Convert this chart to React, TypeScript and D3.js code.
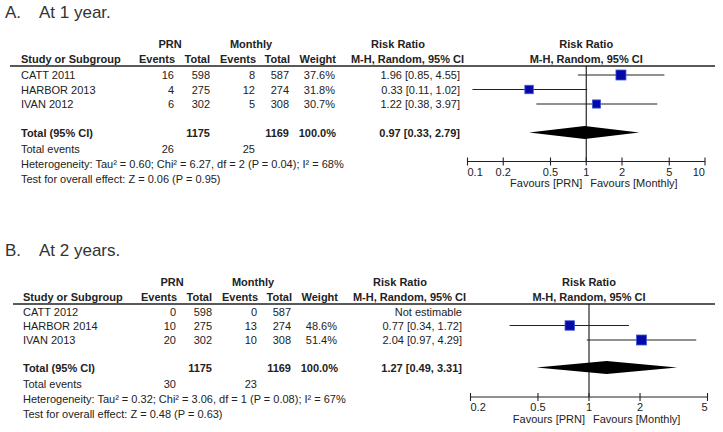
import React from 'react'
import * as d3 from 'd3'

// ---- panel A: at 1 year ----
const studiesA = ['CATT 2011', 'HARBOR 2013', 'IVAN 2012']
const prnEventsA = [16, 4, 6]
const prnTotalA = [598, 275, 302]
const monEventsA = [8, 12, 5]
const monTotalA = [587, 274, 308]
const weightA = [37.6, 31.8, 30.7]
const rrA = [1.96, 0.33, 1.22]
const loA = [0.85, 0.11, 0.38]
const hiA = [4.55, 1.02, 3.97]
const pooledA = [0.97, 0.33, 2.79]
const totalsA = [1175, 1169]
const totalEventsA = [26, 25]
const hetA = 'Heterogeneity: Tau² = 0.60; Chi² = 6.27, df = 2 (P = 0.04); I² = 68%'
const testA = 'Test for overall effect: Z = 0.06 (P = 0.95)'
const ticksA = [0.1, 0.2, 0.5, 1, 2, 5, 10]

// ---- panel B: at 2 years ----
const studiesB = ['CATT 2012', 'HARBOR 2014', 'IVAN 2013']
const prnEventsB = [0, 10, 20]
const prnTotalB = [598, 275, 302]
const monEventsB = [0, 13, 10]
const monTotalB = [587, 274, 308]
const weightB = [null, 48.6, 51.4]
const rrB = [null, 0.77, 2.04]
const loB = [null, 0.34, 0.97]
const hiB = [null, 1.72, 4.29]
const pooledB = [1.27, 0.49, 3.31]
const totalsB = [1175, 1169]
const totalEventsB = [30, 23]
const hetB = 'Heterogeneity: Tau² = 0.32; Chi² = 3.06, df = 1 (P = 0.08); I² = 67%'
const testB = 'Test for overall effect: Z = 0.48 (P = 0.63)'
const ticksB = [0.2, 0.5, 1, 2, 5]

const FONT = "Arial, 'Liberation Sans', sans-serif"
const INK = '#222'

function fmt2(v: number) {
  return v.toFixed(2)
}

function Panel(props: any) {
  const {
    top, dx, letter, title, studies, prnEvents, prnTotal, monEvents, monTotal,
    weight, rr, lo, hi, pooled, totals, totalEvents, het, test, ticks,
    axisRange, lineX0, rows, yTotal, yAxis,
  } = props

  const x = d3.scaleLog().domain([ticks[0], ticks[ticks.length - 1]]).range(axisRange)
  const maxW = d3.max(weight.filter((w: any) => w != null) as number[]) as number
  const side = d3.scaleLinear().domain([0, maxW]).range([0, 10])
  const c = (v: number) => v + dx

  const yHead1 = top + 30
  const yHead2 = top + 45
  const yLine = top + 48
  const yEvents = yTotal + 16.5
  const yHet = yTotal + 31.5
  const yTest = yTotal + 46.5

  const num = { fontSize: 11, fill: INK, textAnchor: 'end' as const }
  const bold = { fontSize: 11, fill: INK, fontWeight: 'bold' as const }

  return (
    <g fontFamily={FONT}>
      <text x={5} y={top} fontSize={17} fill="#333">{letter}</text>
      <text x={39} y={top} fontSize={17} fill="#333">{title}</text>

      <text x={c(170)} y={yHead1} textAnchor="middle" {...bold}>PRN</text>
      <text x={c(251)} y={yHead1} textAnchor="middle" {...bold}>Monthly</text>
      <text x={c(398)} y={yHead1} textAnchor="middle" {...bold}>Risk Ratio</text>
      <text x={x(1)} y={yHead1} textAnchor="middle" {...bold}>Risk Ratio</text>

      <text x={c(21)} y={yHead2} {...bold}>Study or Subgroup</text>
      <text x={c(175)} y={yHead2} textAnchor="end" {...bold}>Events</text>
      <text x={c(210)} y={yHead2} textAnchor="end" {...bold}>Total</text>
      <text x={c(256)} y={yHead2} textAnchor="end" {...bold}>Events</text>
      <text x={c(290)} y={yHead2} textAnchor="end" {...bold}>Total</text>
      <text x={c(336)} y={yHead2} textAnchor="end" {...bold}>Weight</text>
      <text x={c(464)} y={yHead2} textAnchor="end" {...bold}>M-H, Random, 95% CI</text>
      <text x={x(1)} y={yHead2} textAnchor="middle" {...bold}>M-H, Random, 95% CI</text>

      <line x1={lineX0} x2={715} y1={yLine} y2={yLine} stroke={INK} strokeWidth={1.3} />
      <line x1={x(1)} x2={x(1)} y1={yLine} y2={yAxis} stroke="#111" strokeWidth={1.1} />

      {studies.map((s: string, i: number) => {
        const y = rows[i]
        const has = rr[i] != null
        const sz = has ? side(weight[i]) : 0
        return (
          <g key={s}>
            <text x={c(21)} y={y + 4} fontSize={11} fill={INK}>{s}</text>
            <text x={c(174)} y={y + 4} {...num}>{prnEvents[i]}</text>
            <text x={c(210)} y={y + 4} {...num}>{prnTotal[i]}</text>
            <text x={c(255)} y={y + 4} {...num}>{monEvents[i]}</text>
            <text x={c(289)} y={y + 4} {...num}>{monTotal[i]}</text>
            {weight[i] != null && (
              <text x={c(335)} y={y + 4} {...num}>{weight[i].toFixed(1)}%</text>
            )}
            <text x={c(460)} y={y + 4} {...num}>
              {has ? `${fmt2(rr[i])} [${fmt2(lo[i])}, ${fmt2(hi[i])}]` : 'Not estimable'}
            </text>
            {has && (
              <>
                <line x1={x(lo[i])} x2={x(hi[i])} y1={y} y2={y} stroke={INK} strokeWidth={1.1} />
                <rect
                  x={x(rr[i]) - sz / 2}
                  y={y - sz / 2}
                  width={sz}
                  height={sz}
                  fill="#0808a8"
                  stroke="#3d5ad8"
                  strokeWidth={0.8}
                />
              </>
            )}
          </g>
        )
      })}

      <text x={c(21)} y={yTotal + 4} {...bold}>Total (95% CI)</text>
      <text x={c(210)} y={yTotal + 4} textAnchor="end" {...bold}>{totals[0]}</text>
      <text x={c(289)} y={yTotal + 4} textAnchor="end" {...bold}>{totals[1]}</text>
      <text x={c(336)} y={yTotal + 4} textAnchor="end" {...bold}>100.0%</text>
      <text x={c(460)} y={yTotal + 4} textAnchor="end" {...bold}>
        {`${fmt2(pooled[0])} [${fmt2(pooled[1])}, ${fmt2(pooled[2])}]`}
      </text>
      <path
        d={`M${x(pooled[1])},${yTotal} L${x(pooled[0])},${yTotal - 6.5} L${x(pooled[2])},${yTotal} L${x(pooled[0])},${yTotal + 6.5} Z`}
        fill="#000"
      />

      <text x={c(21)} y={yEvents + 4} fontSize={11} fill={INK}>Total events</text>
      <text x={c(174)} y={yEvents + 4} {...num}>{totalEvents[0]}</text>
      <text x={c(255)} y={yEvents + 4} {...num}>{totalEvents[1]}</text>
      <text x={c(21)} y={yHet + 4} fontSize={11} fill={INK}>{het}</text>
      <text x={c(21)} y={yTest + 4} fontSize={11} fill={INK}>{test}</text>

      <line x1={axisRange[0]} x2={axisRange[1]} y1={yAxis} y2={yAxis} stroke={INK} strokeWidth={1.1} />
      {ticks.map((t: number, i: number) => (
        <g key={t}>
          <line x1={x(t)} x2={x(t)} y1={yAxis - 4} y2={yAxis + 4} stroke={INK} strokeWidth={1.1} />
          <text
            x={x(t)}
            y={yAxis + 14}
            fontSize={11}
            fill={INK}
            textAnchor={i === 0 ? 'start' : i === ticks.length - 1 ? 'end' : 'middle'}
          >
            {d3.format('~g')(t)}
          </text>
        </g>
      ))}
      <text x={x(1) - 4} y={yAxis + 25.5} fontSize={11} fill={INK} textAnchor="end">Favours [PRN]</text>
      <text x={x(1) + 4} y={yAxis + 25.5} fontSize={11} fill={INK}>Favours [Monthly]</text>
    </g>
  )
}

export default function App() {
  return (
    <svg
      width={723}
      height={432}
      viewBox="0 0 723 432"
      style={{ position: 'absolute', left: 0, top: 0, background: '#fff' }}
    >
      <rect width={723} height={432} fill="#fff" />
      <Panel
        top={18}
        dx={0}
        letter="A."
        title="At 1 year."
        studies={studiesA}
        prnEvents={prnEventsA}
        prnTotal={prnTotalA}
        monEvents={monEventsA}
        monTotal={monTotalA}
        weight={weightA}
        rr={rrA}
        lo={loA}
        hi={hiA}
        pooled={pooledA}
        totals={totalsA}
        totalEvents={totalEventsA}
        het={hetA}
        test={testA}
        ticks={ticksA}
        axisRange={[467.5, 705]}
        lineX0={10}
        rows={[75, 89.5, 104]}
        yTotal={132.5}
        yAxis={161.5}
      />
      <Panel
        top={256}
        dx={2}
        letter="B."
        title="At 2 years."
        studies={studiesB}
        prnEvents={prnEventsB}
        prnTotal={prnTotalB}
        monEvents={monEventsB}
        monTotal={monTotalB}
        weight={weightB}
        rr={rrB}
        lo={loB}
        hi={hiB}
        pooled={pooledB}
        totals={totalsB}
        totalEvents={totalEventsB}
        het={hetB}
        test={testB}
        ticks={ticksB}
        axisRange={[470.5, 707.5]}
        lineX0={13}
        rows={[312, 325.5, 340]}
        yTotal={367.5}
        yAxis={397}
      />
    </svg>
  )
}
